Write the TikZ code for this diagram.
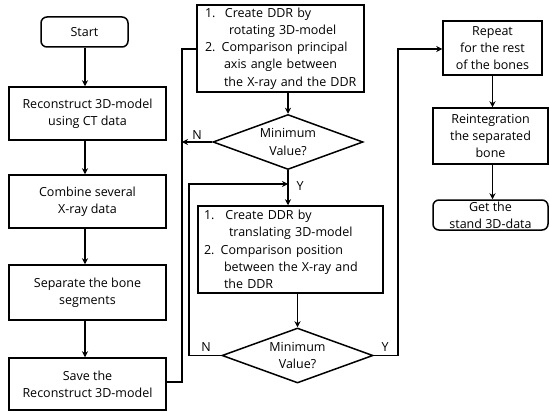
\documentclass[tikz,border=0pt]{standalone}
\usepackage{fontspec}
\setmainfont{Open Sans}
\usetikzlibrary{arrows.meta,shapes.geometric}
\begin{document}
\begin{tikzpicture}[x=1pt,y=-1pt,
  font=\fontsize{12.5}{17.2}\selectfont,
  base/.style={draw=black,line width=1.5pt,inner sep=0pt,align=center},
  box/.style={base,rectangle},
  rbox/.style={base,rectangle,rounded corners=6pt},
  dia/.style={base,diamond,aspect=2.7},
  arr/.style={line width=1.5pt,-{Stealth[length=6pt,width=6pt]}},
  ln/.style={line width=1.5pt},
  lab/.style={inner sep=0pt}]
\useasboundingbox (0,0) rectangle (549,412);
\fill[white] (0,0) rectangle (549,412);
% left column
\node[rbox,minimum width=87pt,minimum height=30pt] (start) at (84.5,32) {Start};
\node[box,minimum width=157pt,minimum height=53pt] (recon) at (87.5,113.5) {Reconstruct 3D-model\\using CT data};
\node[box,minimum width=157pt,minimum height=53pt] (comb) at (87.5,201.5) {Combine several\\X-ray data};
\node[box,minimum width=157pt,minimum height=55pt] (sep) at (87.5,292.5) {Separate the bone\\segments};
\node[box,minimum width=157pt,minimum height=52pt] (save) at (87.5,384) {Save the\\Reconstruct 3D-model};
% middle column
\node[box,minimum width=167pt,minimum height=87pt,text width=151pt,align=left] (rot) at (280.5,48.5)
  {\mbox{1.\hspace{9.5pt}Create DDR by}\\\mbox{\hspace*{24pt}rotating 3D-model}\\\mbox{2. Comparison principal}\\\mbox{\hspace*{19pt}axis angle between}\\\mbox{\hspace*{19pt}the X-ray and the DDR}};
\node[dia,minimum width=150pt,minimum height=55pt] (d1) at (288,142) {};
\node[lab,align=center] at (288,142) {Minimum\\Value?};
\node[box,minimum width=185pt,minimum height=87pt,text width=173pt,align=left] (tra) at (290.5,249.5)
  {\mbox{1.\hspace{11pt}Create DDR by}\\\mbox{\hspace*{25pt}translating 3D-model}\\\mbox{2. Comparison position}\\\mbox{\hspace*{20pt}between the X-ray and}\\\mbox{\hspace*{20pt}the DDR}};
\node[dia,minimum width=151pt,minimum height=55pt] (d2) at (297.5,355.5) {};
\node[lab,align=center] at (297.5,355.5) {Minimum\\Value?};
% right column
\node[box,minimum width=99pt,minimum height=54pt] (rep) at (492.5,48) {Repeat\\for the rest\\of the bones};
\node[box,minimum width=115pt,minimum height=56pt] (reint) at (490.5,136) {Reintegration\\the separated\\bone};
\node[rbox,minimum width=115pt,minimum height=30pt] (get) at (490.5,215) {Get the\\stand 3D-data};
% coordinates
\coordinate (c1) at (182,382);
\coordinate (c2) at (182,49);
\coordinate (c3) at (182,142);
\coordinate (c4) at (189,355.5);
\coordinate (c5) at (189,184);
\coordinate (c6) at (288,184);
\coordinate (c7) at (398,355.5);
\coordinate (c8) at (398,49);
% connectors
\draw[arr] (start.south -| 85,0) -- (recon.north -| 85,0);
\draw[arr] (recon.south -| 85,0) -- (comb.north -| 85,0);
\draw[arr] (comb.south -| 85,0) -- (sep.north -| 85,0);
\draw[arr] (sep.south -| 85,0) -- (save.north -| 85,0);
\draw[ln] (save.east |- c1) -- (c1) -- (c2) -- (rot.west |- c2);
\draw[arr] (d1.west) -- (c3) node[lab,pos=0.5,above=2pt] {N};
\draw[arr] (rot.south -| d1.north) -- (d1.north);
\draw[arr] (d1.south) -- (tra.north -| d1.south);
\node[lab] at (300,186) {Y};
\draw[arr] (d2.west) -- (c4) -- (c5) -- (c6);
\node[lab] at (206,347) {N};
\draw[arr] (tra.south -| d2.north) -- (d2.north);
\draw[arr] (d2.east) -- (c7) -- (c8) -- (rep.west |- c8);
\node[lab] at (385,347) {Y};
\draw[arr] (rep.south) -- (reint.north -| rep.south);
\draw[arr] (reint.south -| rep.south) -- (get.north -| rep.south);
\end{tikzpicture}
\end{document}
